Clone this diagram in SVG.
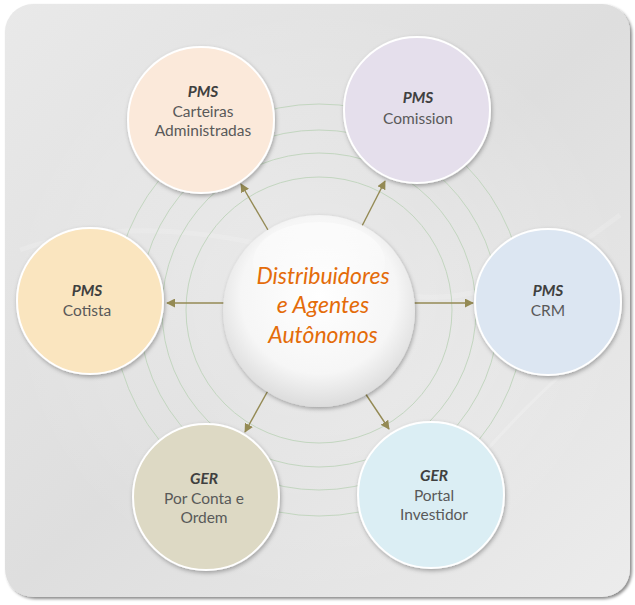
<svg xmlns="http://www.w3.org/2000/svg" width="635" height="605" viewBox="0 0 635 605">
<defs>
<linearGradient id="bg" x1="0" y1="0" x2="1" y2="1">
<stop offset="0" stop-color="#e9e9e9"/>
<stop offset="0.5" stop-color="#dedede"/>
<stop offset="1" stop-color="#ececec"/>
</linearGradient>
<radialGradient id="bgc" cx="0.5" cy="0.5" r="0.5">
<stop offset="0" stop-color="#ffffff" stop-opacity="0.35"/>
<stop offset="1" stop-color="#ffffff" stop-opacity="0"/>
</radialGradient>
<radialGradient id="hub" cx="0.5" cy="0.42" r="0.58">
<stop offset="0" stop-color="#ffffff"/>
<stop offset="0.7" stop-color="#f6f6f6"/>
<stop offset="1" stop-color="#dcdcdc"/>
</radialGradient>
<linearGradient id="gloss" x1="0" y1="0" x2="0" y2="1">
<stop offset="0" stop-color="#ffffff" stop-opacity="0.9"/>
<stop offset="1" stop-color="#ffffff" stop-opacity="0"/>
</linearGradient>
<filter id="sh" x="-20%" y="-20%" width="140%" height="140%">
<feDropShadow dx="1" dy="2" stdDeviation="2" flood-color="#000" flood-opacity="0.3"/>
</filter>
<filter id="bgsh" x="-5%" y="-5%" width="110%" height="110%">
<feDropShadow dx="2" dy="2" stdDeviation="1.5" flood-color="#000" flood-opacity="0.45"/>
</filter>
<marker id="ah" viewBox="0 0 10 10" refX="9" refY="5" markerWidth="9" markerHeight="9" markerUnits="userSpaceOnUse" orient="auto">
<path d="M0,0 L10,5 L0,10 z" fill="#948a54"/>
</marker>
<style>
.node{stroke:#ffffff;stroke-width:2;filter:url(#sh)}
.t{font-family:"Lato","Liberation Sans",sans-serif;font-size:15.5px;fill:#595959;text-anchor:middle}
.h{font-family:"Lato","Liberation Sans",sans-serif;font-size:15.5px;font-weight:bold;font-style:italic;fill:#404040;text-anchor:middle}
.c{font-family:"Lato","Liberation Sans",sans-serif;font-size:23px;font-style:italic;fill:#e46c0a;text-anchor:middle}
.ring{fill:none;stroke:#c3d6c0;stroke-width:1}
.arr{stroke:#948a54;stroke-width:1.4;fill:none;marker-end:url(#ah)}
</style>
</defs>
<g id="background">
<rect x="5" y="4" width="625" height="593" rx="28" fill="url(#bg)" filter="url(#bgsh)"/>
<rect x="5" y="4" width="625" height="593" rx="28" fill="url(#bgc)"/>
<path d="M20,250 C120,215 260,230 360,280 S560,260 620,215" fill="none" stroke="#ffffff" stroke-opacity="0.15" stroke-width="5"/>
<path d="M390,560 C470,470 540,380 620,330" fill="none" stroke="#ffffff" stroke-opacity="0.2" stroke-width="3"/>
<g id="rings">
<circle class="ring" cx="319" cy="310" r="133"/>
<circle class="ring" cx="319" cy="310" r="157"/>
<circle class="ring" cx="319" cy="310" r="180"/>
<circle class="ring" cx="319" cy="310" r="206"/>
</g>
</g>
<g id="connectors">
<line class="arr" x1="268" y1="230" x2="241" y2="184"/>
<line class="arr" x1="362" y1="226" x2="385" y2="181"/>
<line class="arr" x1="224" y1="303" x2="167" y2="303"/>
<line class="arr" x1="414" y1="303" x2="473" y2="303"/>
<line class="arr" x1="270" y1="387" x2="245" y2="432"/>
<line class="arr" x1="363" y1="390" x2="389" y2="429"/>
</g>
<g id="hub">
<circle cx="319" cy="311" r="96" fill="url(#hub)" filter="url(#sh)"/>
<ellipse cx="319" cy="262" rx="66" ry="40" fill="url(#gloss)" opacity="0.6"/>
<text class="c" x="323" y="284">Distribuidores</text>
<text class="c" x="323" y="313">e Agentes</text>
<text class="c" x="323" y="343">Autônomos</text>
</g>
<g id="carteiras">
<circle class="node" cx="201" cy="120" r="73" fill="#fbe9da"/>
<text class="h" x="203" y="97">PMS</text>
<text class="t" x="203" y="117">Carteiras</text>
<text class="t" x="203" y="136">Administradas</text>
</g>
<g id="comission">
<circle class="node" cx="417" cy="110" r="73" fill="#e5dfec"/>
<text class="h" x="418" y="103">PMS</text>
<text class="t" x="418" y="124">Comission</text>
</g>
<g id="cotista">
<circle class="node" cx="90" cy="301" r="73" fill="#fae5bf"/>
<text class="h" x="87" y="296">PMS</text>
<text class="t" x="87" y="316">Cotista</text>
</g>
<g id="crm">
<circle class="node" cx="548" cy="302" r="73" fill="#dce6f2"/>
<text class="h" x="548" y="296">PMS</text>
<text class="t" x="548" y="316">CRM</text>
</g>
<g id="porconta">
<circle class="node" cx="206" cy="497" r="73" fill="#ddd9c4"/>
<text class="h" x="204" y="484">GER</text>
<text class="t" x="204" y="504">Por Conta e</text>
<text class="t" x="204" y="523">Ordem</text>
</g>
<g id="portal">
<circle class="node" cx="431" cy="495" r="73" fill="#dbeef4"/>
<text class="h" x="434" y="481">GER</text>
<text class="t" x="434" y="501">Portal</text>
<text class="t" x="434" y="520">Investidor</text>
</g>
</svg>
